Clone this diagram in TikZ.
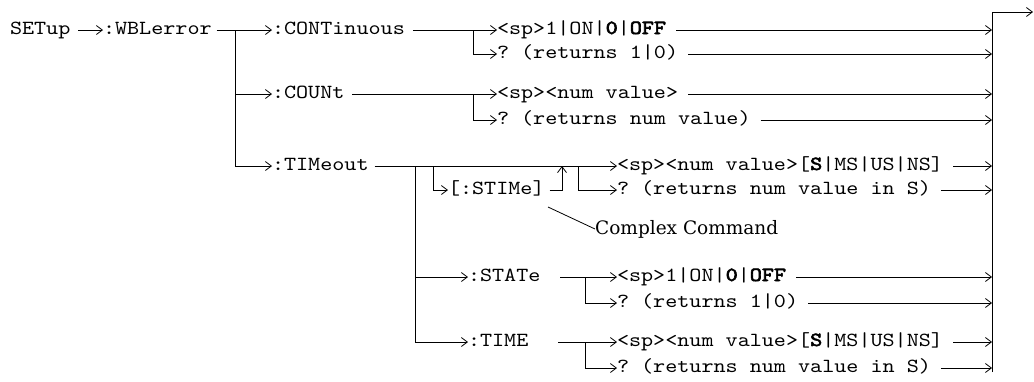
\documentclass[tikz,border=0pt]{standalone}
\usepackage{fontspec}
\setmonofont{lmmono10-regular.otf}[FakeStretch=1.15, BoldFont=lmmono10-regular.otf, BoldFeatures={FakeBold=3}]
\newfontfamily\notefont{DejaVu Serif}
\usetikzlibrary{arrows.meta,positioning}

\begin{document}
\begin{tikzpicture}[
    x=1pt, y=-1pt,
    cmd/.style={inner sep=0pt, outer sep=0pt, anchor=west, text height=12pt, text depth=4pt,
                font=\fontsize{20pt}{24pt}\selectfont\ttfamily},
    note/.style={inner sep=0pt, anchor=west, font=\fontsize{18.5pt}{22pt}\selectfont\notefont},
    wire/.style={line width=0.8pt},
    flow/.style={wire, -{Straight Barb[length=6pt,width=9pt]}}
]
\useasboundingbox (0,0) rectangle (1034,381);
% root and first level
\node[cmd] (setup) at (10,30) {SETup};
\node[cmd] (wbl) at (103,30) {:WBLerror};
\node[cmd] (cont) at (272,30) {:CONTinuous};
\node[cmd] (count) at (272,94) {:COUNt};
\node[cmd] (tmo) at (272,166) {:TIMeout};
% leaves of :CONTinuous and :COUNt
\node[cmd] (cset) at (497,30) {<sp>1|ON|{\bfseries 0}|{\bfseries OFF}};
\node[cmd, below right=8pt and 0pt of cset.south west] (cqry) {? (returns 1|0)};
\node[cmd] (nset) at (497,94) {<sp><num value>};
\node[cmd, below right=10pt and 0pt of nset.south west] (nqry) {? (returns num value)};
% :TIMeout subtree
\node[cmd] (stime) at (448,190) {[:STIMe]};
\node[cmd] (tset) at (617,166) {<sp><num value>[{\bfseries S}|MS|US|NS]};
\node[cmd, below right=8pt and 0pt of tset.south west] (tqry) {? (returns num value in S)};
\node[note] (cplx) at (595,229) {Complex Command};
\node[cmd] (state) at (468,277) {:STATe};
\node[cmd] (sset) at (617,277) {<sp>1|ON|{\bfseries 0}|{\bfseries OFF}};
\node[cmd, below right=10pt and 0pt of sset.south west] (sqry) {? (returns 1|0)};
\node[cmd] (time) at (468,342) {:TIME};
\node[cmd] (mset) at (617,342) {<sp><num value>[{\bfseries S}|MS|US|NS]};
\node[cmd, below right=10pt and 0pt of mset.south west] (mqry) {? (returns num value in S)};

% branch points
\coordinate (b1) at (235,30);
\coordinate (b2) at (473,30);
\coordinate (b3) at (473,94);
\coordinate (b4) at (415,166);
\coordinate (b5) at (433,166);
\coordinate (tup) at (562,166);
\coordinate (b6) at (578,166);
\coordinate (b7) at (585,277);
\coordinate (b8) at (585,342);
\coordinate (ptr) at (548,207);
\coordinate (bus) at (992,12);
\coordinate (busend) at (992,372);
\coordinate (out) at (1033,12);

\draw[flow] ([xshift=8pt]setup.east) -- (wbl.west);
\draw[wire] ([xshift=5pt]wbl.east) -- (b1);
\draw[flow] (b1) -- (cont.west);
\draw[flow] (b1) |- (count.west);
\draw[flow] (b1) |- (tmo.west);

\draw[wire] ([xshift=8pt]cont.east) -- (b2);
\draw[flow] (b2) -- (cset.west);
\draw[flow] (b2) |- (cqry.west);
\draw[wire] ([xshift=8pt]count.east) -- (b3);
\draw[flow] (b3) -- (nset.west);
\draw[flow] (b3) |- (nqry.west);

\draw[flow] ([xshift=6pt]tmo.east) -- (tset.west);
\draw[flow] (b4) |- (state.west);
\draw[flow] (b4) |- (time.west);
\draw[flow] (b5) |- (stime.west);
\draw[flow] ([xshift=5pt]stime.east) -| (tup);
\draw[flow] (b6) |- (tqry.west);
\draw[wire] (ptr) -- (cplx.west);

\draw[flow] ([xshift=20pt]state.east) -- (sset.west);
\draw[flow] (b7) |- (sqry.west);
\draw[flow] ([xshift=30pt]time.east) -- (mset.west);
\draw[flow] (b8) |- (mqry.west);

% everything runs into the bus on the right
\foreach \leaf in {cset,cqry,nset,nqry,tset,tqry,sset,sqry,mset,mqry}
    \draw[flow] ([xshift=10pt]\leaf.east) -- (\leaf.east -| bus);
\draw[wire] (busend) -- (bus);
\draw[flow] (bus) -- (out);
\end{tikzpicture}
\end{document}
